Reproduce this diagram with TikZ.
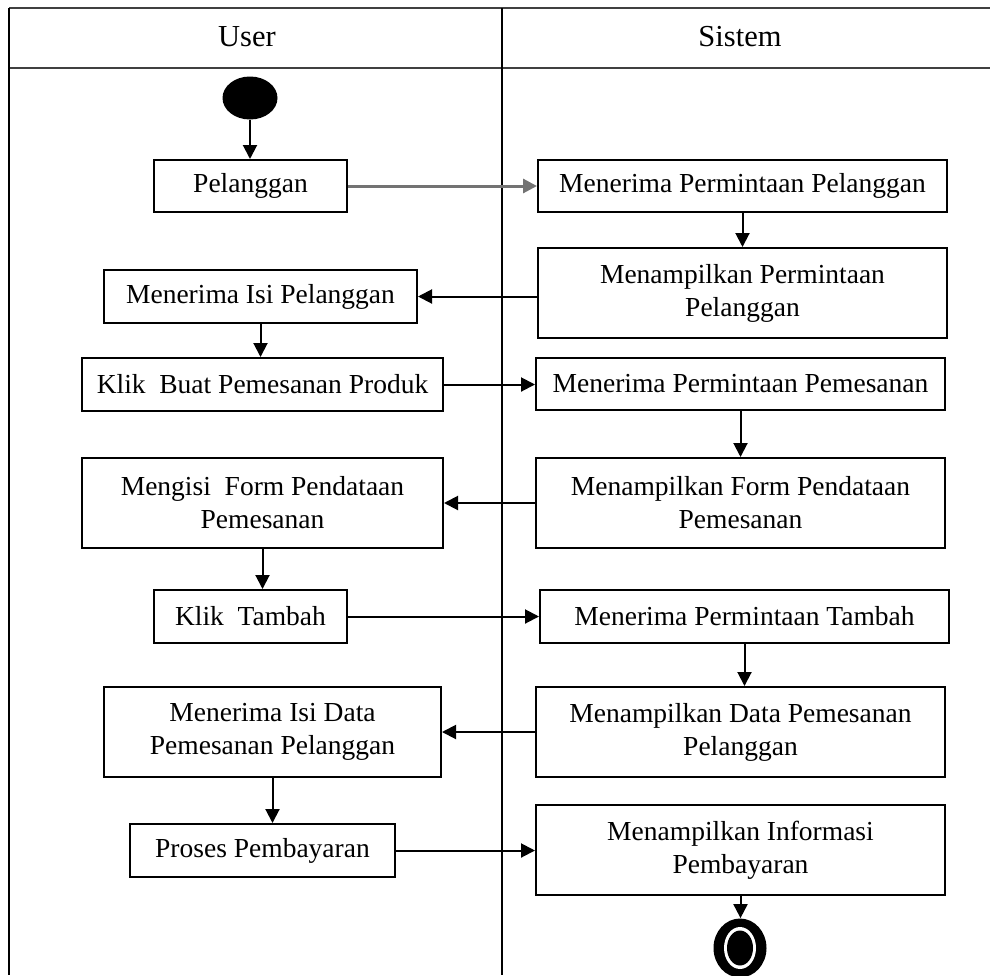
\documentclass[tikz,border=0pt]{standalone}
\usepackage{fontspec}
\setmainfont{Liberation Serif}
\usetikzlibrary{arrows.meta,shapes.geometric}

\begin{document}
\begin{tikzpicture}[x=0.5pt, y=-0.5pt,
  aksi/.style={draw, line width=1pt, align=center, inner sep=0pt, font=\fontsize{13.75}{16.5}\selectfont},
  judul/.style={font=\fontsize{15.25}{18}\selectfont},
  panah/.style={line width=1pt, -{Triangle[length=7pt, width=7pt]}},
  garis/.style={line width=1pt}]

\useasboundingbox (0,0) rectangle (990,975);

\draw[line width=1.4pt, black!75] (9,8) -- (990,8);
\draw[line width=1.4pt, black!75] (9,68) -- (990,68);
\draw[garis] (9,8) -- (9,975);
\draw[garis] (502,8) -- (502,975);

\node[judul] (user) at (247,37) {User};
\node[judul] (sistem) at (740,37) {Sistem};

\node[ellipse, fill, inner sep=0pt, minimum width=27.5pt, minimum height=21.5pt] (mulai) at (250,98) {};

\node[aksi, minimum width=96.5pt, minimum height=26pt] (pel) at (250.5,186) {Pelanggan};
\node[aksi, minimum width=156.5pt, minimum height=26.5pt] (terimaIsi) at (260.5,296.5) {Menerima Isi Pelanggan};
\node[aksi, minimum width=180.5pt, minimum height=26.5pt] (klikBuat) at (262.5,384.5) {Klik~ Buat Pemesanan Produk};
\node[aksi, minimum width=180.5pt, minimum height=45pt] (isiForm) at (262.5,503) {Mengisi~ Form Pendataan\\Pemesanan};
\node[aksi, minimum width=96.5pt, minimum height=26.5pt] (klikTambah) at (250.5,616.5) {Klik~ Tambah};
\node[aksi, minimum width=168.5pt, minimum height=45pt] (terimaData) at (272.5,732) {Menerima Isi Data\\Pemesanan Pelanggan};
\node[aksi, minimum width=132.5pt, minimum height=26.5pt] (proses) at (262.5,850.5) {Proses Pembayaran};

\node[aksi, minimum width=204.5pt, minimum height=26pt] (sPel) at (742.5,186) {Menerima Permintaan Pelanggan};
\node[aksi, minimum width=204.5pt, minimum height=45pt] (sTampilPel) at (742.5,293) {Menampilkan Permintaan\\Pelanggan};
\node[aksi, minimum width=204.5pt, minimum height=26pt] (sTerimaPesan) at (740.5,384) {Menerima Permintaan Pemesanan};
\node[aksi, minimum width=204.5pt, minimum height=45pt] (sTampilForm) at (740.5,503) {Menampilkan Form Pendataan\\Pemesanan};
\node[aksi, minimum width=204.5pt, minimum height=26.5pt] (sTambah) at (744.5,616.5) {Menerima Permintaan Tambah};
\node[aksi, minimum width=204.5pt, minimum height=45pt] (sTampilData) at (740.5,732) {Menampilkan Data Pemesanan\\Pelanggan};
\node[aksi, minimum width=204.5pt, minimum height=45pt] (sInfo) at (740.5,850) {Menampilkan Informasi\\Pembayaran};

\node[ellipse, fill, inner sep=0pt, minimum width=26.5pt, minimum height=29.5pt] (akhir) at (740,948) {};
\fill[white] (akhir.center) ellipse (8pt and 10.5pt);
\fill (akhir.center) ellipse (6.5pt and 8.75pt);

\draw[panah] (mulai) -- (mulai |- pel.north);
\draw[panah, line width=1.5pt, black!55] (pel) -- (pel -| sPel.west);
\draw[panah] (sPel) -- (sPel |- sTampilPel.north);
\draw[panah] (sTampilPel.west |- terimaIsi) -- (terimaIsi);
\draw[panah] (terimaIsi) -- (terimaIsi |- klikBuat.north);
\draw[panah] (klikBuat) -- (klikBuat -| sTerimaPesan.west);
\draw[panah] (sTerimaPesan) -- (sTerimaPesan |- sTampilForm.north);
\draw[panah] (sTampilForm.west |- isiForm) -- (isiForm);
\draw[panah] (isiForm) -- (isiForm |- klikTambah.north);
\draw[panah] (klikTambah) -- (klikTambah -| sTambah.west);
\draw[panah] (sTambah) -- (sTambah |- sTampilData.north);
\draw[panah] (sTampilData.west |- terimaData) -- (terimaData);
\draw[panah] (terimaData) -- (terimaData |- proses.north);
\draw[panah] (proses) -- (proses -| sInfo.west);
\draw[panah] (sInfo) -- (sInfo |- akhir.north);

\end{tikzpicture}
\end{document}
